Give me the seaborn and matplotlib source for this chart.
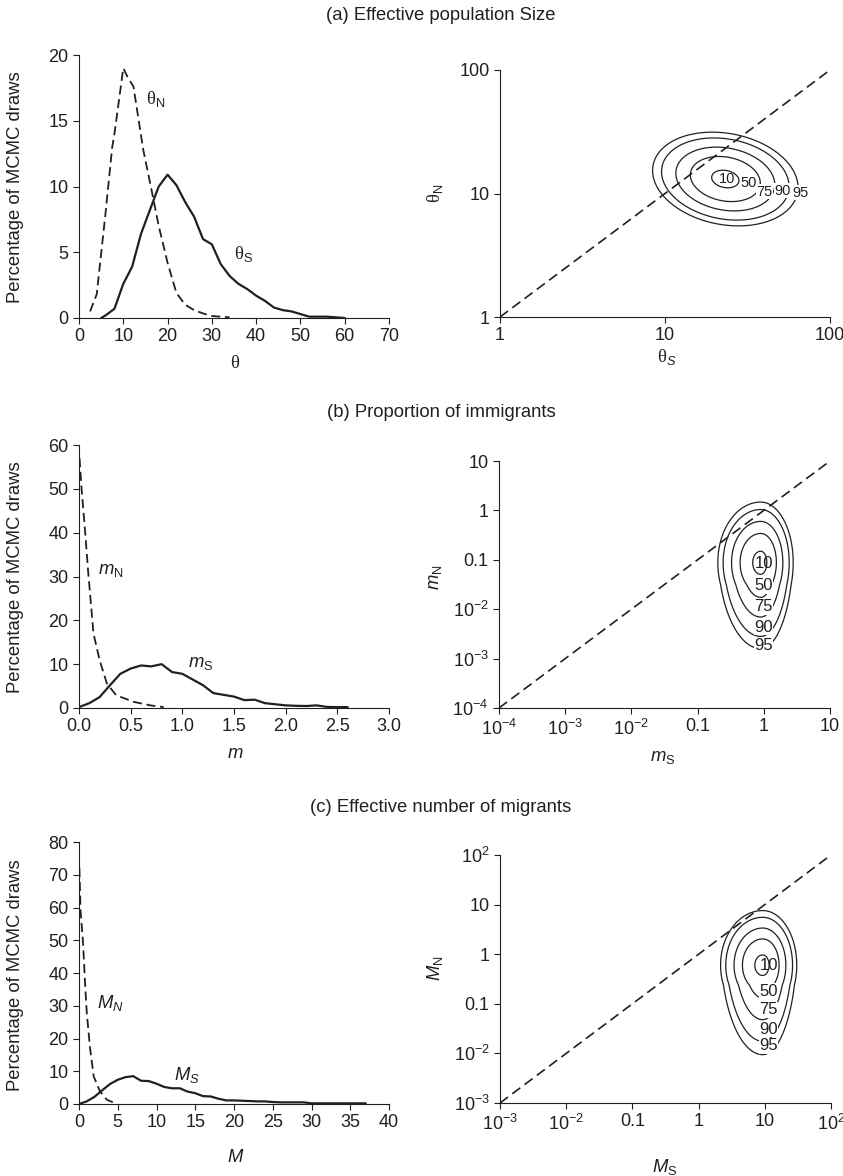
import numpy as np
import matplotlib
matplotlib.use("Agg")
import matplotlib.pyplot as plt
from matplotlib.ticker import NullLocator
import seaborn as sns

# ------------------------------------------------------------------ data
# (a) marginal posteriors of theta (percentage of MCMC draws)
theta_N_x = [2.5, 4, 6, 7.5, 8, 10, 11, 12.3, 14.5, 16.4, 18, 20, 22, 24, 26, 28, 30, 32, 34]
theta_N_y = [0.5, 1.8, 8, 13, 14, 19, 18.3, 17.6, 12.8, 9.7, 7, 4.2, 1.9, 1.0, 0.6, 0.35, 0.15, 0.1, 0.05]
theta_S_x = [5, 6, 8, 10, 12, 14, 16, 18, 20, 22, 24, 26, 28, 30, 32, 34, 36, 38, 40,
             42, 44, 46, 48, 50, 52, 54, 56, 58, 60]
theta_S_y = [0, 0.2, 0.7, 2.6, 3.9, 6.4, 8.2, 10, 10.9, 10.1, 8.8, 7.7, 6.0, 5.6, 4.1, 3.2, 2.6,
             2.2, 1.7, 1.3, 0.8, 0.6, 0.5, 0.3, 0.1, 0.1, 0.1, 0.05, 0]

# (b) proportion of immigrants
m_N_x = [0.005, 0.026, 0.058, 0.09, 0.14, 0.2, 0.27, 0.36, 0.53, 0.69, 0.82]
m_N_y = [57, 49.7, 40.6, 30.7, 17, 10.9, 5.6, 2.9, 1.4, 0.6, 0.2]
m_S_x = [0.0, 0.1, 0.2, 0.3, 0.4, 0.5, 0.6, 0.7, 0.8, 0.9, 1.0, 1.1, 1.2, 1.3, 1.4, 1.5,
         1.6, 1.7, 1.8, 1.9, 2.0, 2.1, 2.2, 2.3, 2.4, 2.5, 2.6]
m_S_y = [0.2, 1.1, 2.5, 5.2, 7.8, 9.0, 9.7, 9.5, 10.0, 8.2, 7.8, 6.5, 5.2, 3.4, 3.0, 2.6,
         1.8, 1.9, 1.1, 0.85, 0.6, 0.5, 0.45, 0.6, 0.25, 0.2, 0.2]

# (c) effective number of migrants
M_N_x = [0.05, 0.2, 0.5, 0.8, 1.0, 1.4, 1.9, 2.7, 3.6, 4.6]
M_N_y = [72, 59, 50, 36, 28, 17.6, 8.4, 3.9, 1.3, 0.3]
M_S_x = [0, 1, 2, 3, 4, 5, 6, 7, 8, 9, 10, 11, 12, 13, 14, 15, 16, 17, 18, 19, 20,
         21, 22, 23, 24, 25, 26, 27, 28, 29, 30, 31, 32, 33, 34, 35, 36, 37]
M_S_y = [0, 0.8, 2.2, 4.2, 6.1, 7.4, 8.2, 8.5, 7.1, 7.0, 6.2, 5.2, 4.8, 4.8, 3.8, 3.3,
         2.4, 2.3, 1.6, 1.1, 1.1, 1.0, 0.9, 0.8, 0.8, 0.6, 0.5, 0.5, 0.5, 0.5,
         0.2, 0.2, 0.2, 0.2, 0.2, 0.2, 0.2, 0.2]

# joint posterior summaries (log10 scale)
hpd_levels = [95, 90, 75, 50, 10]          # highest-density region percentages
theta_mode = [23.2, 13.1]                  # (theta_S, theta_N)
theta_sd = [0.18, 0.155]                   # log10 sd
theta_corr = -0.18
m_mode = [0.90, 0.088]                     # (m_S, m_N)
m_sd_x = [0.265, 0.20]                     # left / right
m_sd_y = [0.50, 0.52]                      # up / down
m_tail = [0.45, 1.57]                      # lower-tail start, stretch
M_mode = [9.3, 0.60]                       # (M_S, M_N)
M_sd_x = [0.26, 0.21]
M_sd_y = [0.45, 0.45]
M_tail = [0.40, 2.0]

# tick labels
theta_ticks = [1, 10, 100]
theta_ticklabels = ["1", "10", "100"]
m_ticks = [1e-4, 1e-3, 1e-2, 0.1, 1, 10]
m_ticklabels = [r"$\mathsf{10^{-4}}$", r"$\mathsf{10^{-3}}$", r"$\mathsf{10^{-2}}$", "0.1", "1", "10"]
M_ticks = [1e-3, 1e-2, 0.1, 1, 10, 100]
M_ticklabels = [r"$\mathsf{10^{-3}}$", r"$\mathsf{10^{-2}}$", "0.1", "1", "10", r"$\mathsf{10^{2}}$"]

# ------------------------------------------------------------------ style
sns.set_theme(style="ticks")
INK = "#231f20"
plt.rcParams["font.family"] = ["Liberation Sans", "DejaVu Sans"]
plt.rcParams.update({
    "mathtext.fontset": "custom",
    "mathtext.rm": "Liberation Serif",
    "mathtext.sf": "Liberation Sans",
    "mathtext.it": "Liberation Sans:italic",
    "mathtext.bf": "Liberation Sans:bold",
    "axes.edgecolor": INK,
    "axes.linewidth": 0.8,
    "xtick.color": INK,
    "ytick.color": INK,
    "text.color": INK,
    "axes.labelcolor": INK,
})

W, H = 843, 1176
fig = plt.figure(figsize=(W / 100, H / 100), dpi=100)
fig.patch.set_facecolor("white")

TICK_FS = 13
LABEL_FS = 13.3


def make_axes(box):
    x0, x1, yt, yb = box
    ax = fig.add_axes([x0 / W, 1 - yb / H, (x1 - x0) / W, (yb - yt) / H])
    ax.set_facecolor("white")
    sns.despine(ax=ax)
    ax.tick_params(direction="out", length=4, width=0.8, pad=3.5, labelsize=TICK_FS)
    return ax


def place_labels(ax, box, xlab, xpos, ylab, ypos):
    x0, x1, yt, yb = box
    ax.set_xlabel(xlab, fontsize=LABEL_FS)
    ax.set_ylabel(ylab, fontsize=LABEL_FS)
    ax.xaxis.set_label_coords((xpos[0] - x0) / (x1 - x0), (yb - xpos[1]) / (yb - yt))
    ax.yaxis.set_label_coords((ypos[0] - x0) / (x1 - x0), (yb - ypos[1]) / (yb - yt))
    ax.xaxis.label.set_va("center")
    ax.yaxis.label.set_va("center")


def density_curves(ax, nx, ny, sx, sy):
    sns.lineplot(x=sx, y=sy, ax=ax, color=INK, lw=1.6, linestyle="-", sort=False)
    sns.lineplot(x=nx, y=ny, ax=ax, color=INK, lw=1.3, linestyle=(0, (5, 2.6)), sort=False)


def log_axes(ax, ticks, labels):
    ax.set_xscale("log")
    ax.set_yscale("log")
    ax.set_xlim(ticks[0], ticks[-1])
    ax.set_ylim(ticks[0], ticks[-1])
    ax.set_xticks(ticks)
    ax.set_yticks(ticks)
    ax.set_xticklabels(labels)
    ax.set_yticklabels(labels)
    ax.xaxis.set_minor_locator(NullLocator())
    ax.yaxis.set_minor_locator(NullLocator())
    lims = [ticks[0], ticks[-1]]
    ax.plot(lims, lims, color=INK, lw=1.2, linestyle=(0, (6, 3.2)), clip_on=False)


def skewed_surface(lx, ly, mode, sdx, sdy, tail):
    cx, cy = np.log10(mode[0]), np.log10(mode[1])
    du = lx - cx
    u = np.where(du < 0, du / sdx[0], du / sdx[1])
    dv = ly - cy
    d = np.abs(dv)
    dw = np.where(d < tail[0], d, tail[0] + (d - tail[0]) / tail[1])
    v = np.where(dv >= 0, dv / sdy[0], -dw / sdy[1])
    return np.exp(-0.5 * (u ** 2 + v ** 2))


def gauss_surface(lx, ly, mode, sd, rho):
    u = (lx - np.log10(mode[0])) / sd[0]
    v = (ly - np.log10(mode[1])) / sd[1]
    q = (u ** 2 - 2 * rho * u * v + v ** 2) / (1 - rho ** 2)
    return np.exp(-0.5 * q)


def draw_hpd(ax, LX, LY, F, label_x, label_y, fs):
    levels = [1 - p / 100 for p in hpd_levels]      # ascending
    ax.contour(10 ** LX, 10 ** LY, F, levels=levels, colors=INK, linewidths=0.9)
    for p, x, y in zip(hpd_levels, label_x, label_y):
        kw = {}
        if p != 10:
            kw["bbox"] = dict(facecolor="white", edgecolor="none", pad=0.3)
        ax.text(x, y, str(p), fontsize=fs, ha="center", va="center", color=INK, **kw)


# ------------------------------------------------------------------ boxes (px)
A_L = (79, 389, 55, 318)
A_R = (500, 830, 70, 317)
B_L = (79, 389, 445, 708)
B_R = (499, 830, 461, 708)
C_L = (79, 389, 842, 1104)
C_R = (500, 831, 855, 1103)

ylab_pct = "Percentage of MCMC draws"

# ------------------------------------------------------------------ (a)
fig.text(441 / W, 1 - 15 / H, "(a) Effective population Size", ha="center", va="center",
         fontsize=LABEL_FS)
ax = make_axes(A_L)
density_curves(ax, theta_N_x, theta_N_y, theta_S_x, theta_S_y)
ax.set_xlim(0, 70)
ax.set_ylim(0, 20)
ax.set_xticks([0, 10, 20, 30, 40, 50, 60, 70])
ax.set_yticks([0, 5, 10, 15, 20])
ax.text(15.2, 16.3, r"$\mathrm{\theta}_\mathsf{N}$", fontsize=LABEL_FS, va="baseline")
ax.text(35.1, 4.5, r"$\mathrm{\theta}_\mathsf{S}$", fontsize=LABEL_FS, va="baseline")
place_labels(ax, A_L, r"$\mathrm{\theta}$", (235, 363), ylab_pct, (15, 187))

ax = make_axes(A_R)
log_axes(ax, theta_ticks, theta_ticklabels)
lx = np.linspace(0.3, 2.4, 400)
ly = np.linspace(0.3, 2.0, 400)
LX, LY = np.meshgrid(lx, ly)
F = gauss_surface(LX, LY, theta_mode, theta_sd, theta_corr)
draw_hpd(ax, LX, LY, F, [66.5, 51.5, 40.0, 32.0, 23.9], [10.15, 10.5, 10.35, 12.1, 13.0], 10.5)
place_labels(ax, A_R, r"$\mathrm{\theta}_S$", (667, 357), r"$\mathrm{\theta}_\mathsf{N}$", (435, 193))

# ------------------------------------------------------------------ (b)
fig.text(441 / W, 1 - 412 / H, "(b) Proportion of immigrants", ha="center", va="center",
         fontsize=LABEL_FS)
ax = make_axes(B_L)
density_curves(ax, m_N_x, m_N_y, m_S_x, m_S_y)
ax.set_xlim(0, 3)
ax.set_ylim(0, 60)
ax.set_xticks([0, 0.5, 1.0, 1.5, 2.0, 2.5, 3.0])
ax.set_xticklabels(["0.0", "0.5", "1.0", "1.5", "2.0", "2.5", "3.0"])
ax.set_yticks([0, 10, 20, 30, 40, 50, 60])
ax.text(0.187, 30.5, r"$m_\mathsf{N}$", fontsize=LABEL_FS, va="baseline")
ax.text(1.05, 9.4, r"$m_\mathsf{S}$", fontsize=LABEL_FS, va="baseline")
place_labels(ax, B_L, r"$m$", (235, 753), ylab_pct, (15, 577))

ax = make_axes(B_R)
log_axes(ax, m_ticks, m_ticklabels)
lx = np.linspace(-1.6, 1.2, 450)
ly = np.linspace(-4.0, 1.0, 500)
LX, LY = np.meshgrid(lx, ly)
F = skewed_surface(LX, LY, m_mode, m_sd_x, m_sd_y, m_tail)
draw_hpd(ax, LX, LY, F, [1.0] * 5, [0.00188, 0.0043, 0.0111, 0.0295, 0.084], 12)
place_labels(ax, B_R, r"$m_\mathsf{S}$", (663, 757), r"$m_\mathsf{N}$", (435, 577))

# ------------------------------------------------------------------ (c)
fig.text(441 / W, 1 - 808 / H, "(c) Effective number of migrants", ha="center", va="center",
         fontsize=LABEL_FS)
ax = make_axes(C_L)
density_curves(ax, M_N_x, M_N_y, M_S_x, M_S_y)
ax.set_xlim(0, 40)
ax.set_ylim(0, 80)
ax.set_xticks([0, 5, 10, 15, 20, 25, 30, 35, 40])
ax.set_yticks([0, 10, 20, 30, 40, 50, 60, 70, 80])
ax.text(2.36, 29.4, r"$M_N$", fontsize=LABEL_FS, va="baseline")
ax.text(12.2, 7.3, r"$M_S$", fontsize=LABEL_FS, va="baseline")
place_labels(ax, C_L, r"$M$", (236, 1158), ylab_pct, (15, 975))

ax = make_axes(C_R)
log_axes(ax, M_ticks, M_ticklabels)
lx = np.linspace(-0.6, 2.2, 450)
ly = np.linspace(-3.0, 1.6, 500)
LX, LY = np.meshgrid(lx, ly)
F = skewed_surface(LX, LY, M_mode, M_sd_x, M_sd_y, M_tail)
draw_hpd(ax, LX, LY, F, [11.4] * 5, [0.0141, 0.031, 0.076, 0.181, 0.59], 12)
place_labels(ax, C_R, r"$M_\mathsf{S}$", (665, 1167), r"$M_\mathsf{N}$", (435, 968))

fig.savefig("out.png", dpi=100, facecolor="white")
